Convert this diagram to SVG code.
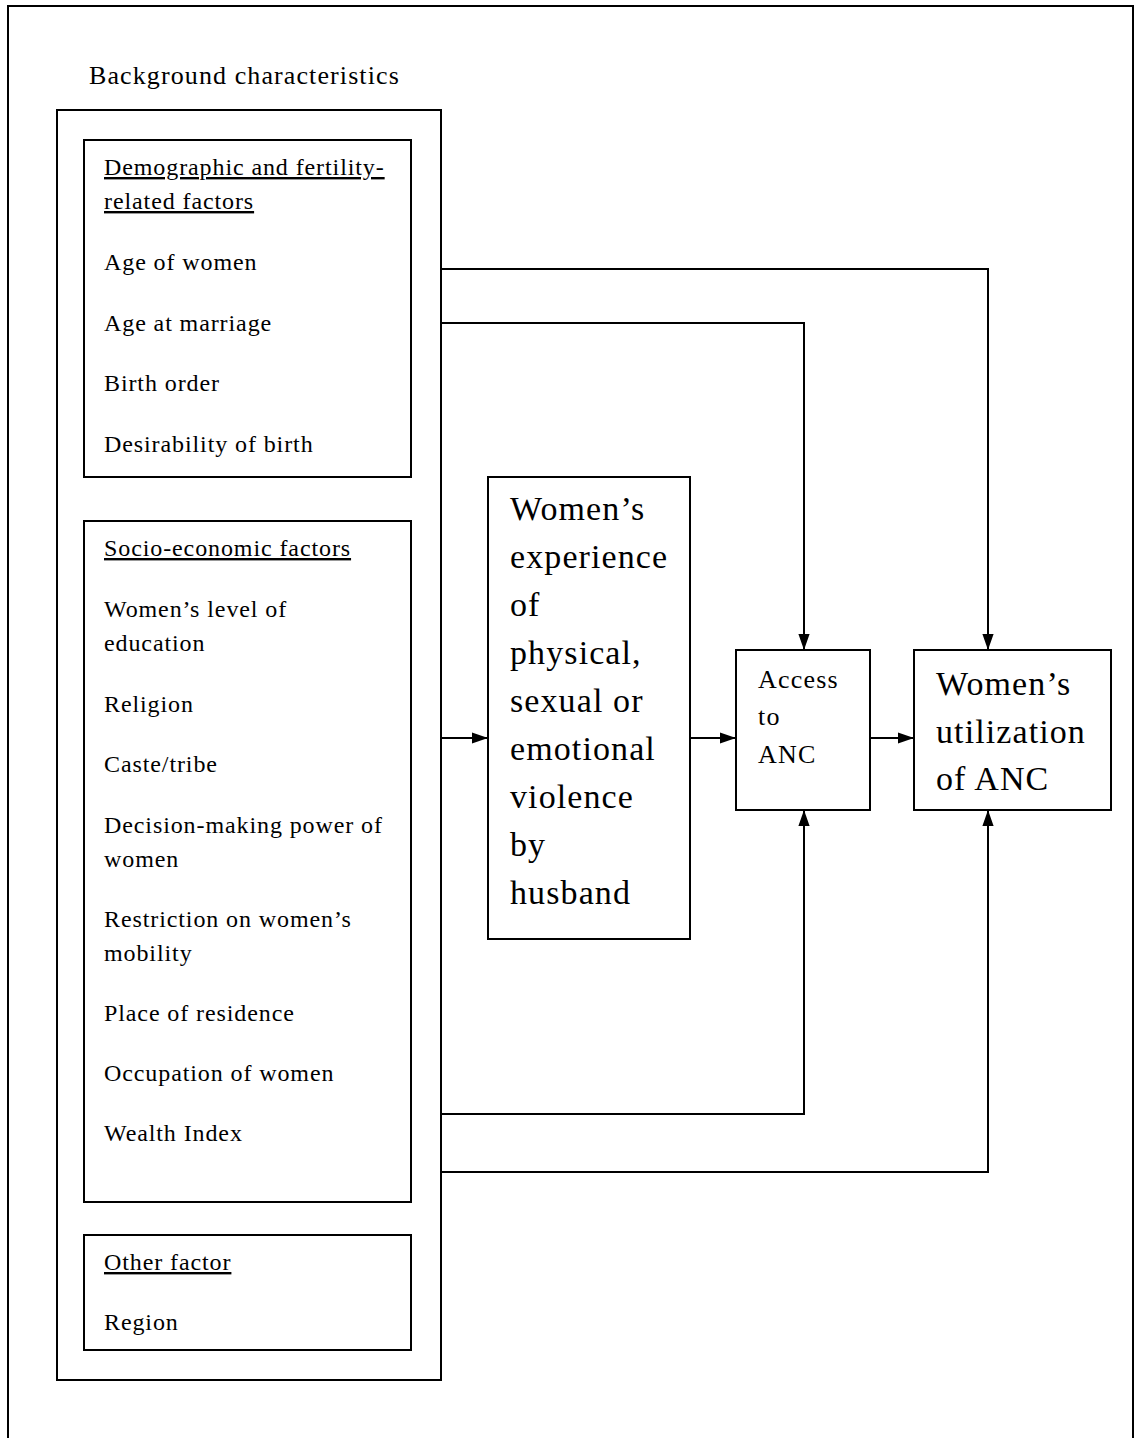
<svg xmlns="http://www.w3.org/2000/svg" width="1135" height="1438" viewBox="0 0 1135 1438">
<style>
.b{fill:none;stroke:#000;stroke-width:2}
.t{font-family:"Liberation Serif","Times New Roman",serif;fill:#000;font-size:24px;letter-spacing:0.9px}
.h{font-size:26px;letter-spacing:1.1px}
.a{font-size:26px;letter-spacing:1.2px}
.u{text-decoration:underline}
.big{font-size:34px;letter-spacing:1.1px}
.c{fill:none;stroke:#000;stroke-width:2}
</style>
<defs>
<marker id="ah2" viewBox="0 0 10 10" refX="10" refY="5" markerWidth="16" markerHeight="16" markerUnits="userSpaceOnUse" orient="auto">
<path d="M0,1.5 L10,5 L0,8.5 z" fill="#000"/>
</marker>
</defs>
<rect width="1135" height="1438" fill="#fff"/>
<g id="frame"><path class="b" d="M8,1440 L8,6 L1133,6 L1133,1440"/></g>
<text class="t h" x="89" y="84">Background characteristics</text>
<g id="background"><rect class="b" x="57" y="110" width="384" height="1270"/></g>
<g id="demographic">
<rect class="b" x="84" y="140" width="327" height="337"/>
<text class="t u" x="104" y="175">Demographic and fertility-</text>
<text class="t u" x="104" y="209">related factors</text>
<text class="t" x="104" y="270">Age of women</text>
<text class="t" x="104" y="331">Age at marriage</text>
<text class="t" x="104" y="391">Birth order</text>
<text class="t" x="104" y="452">Desirability of birth</text>
</g>
<g id="socioeconomic">
<rect class="b" x="84" y="521" width="327" height="681"/>
<text class="t u" x="104" y="556">Socio-economic factors</text>
<text class="t" x="104" y="617">Women’s level of</text>
<text class="t" x="104" y="651">education</text>
<text class="t" x="104" y="712">Religion</text>
<text class="t" x="104" y="772">Caste/tribe</text>
<text class="t" x="104" y="833">Decision-making power of</text>
<text class="t" x="104" y="867">women</text>
<text class="t" x="104" y="927">Restriction on women’s</text>
<text class="t" x="104" y="961">mobility</text>
<text class="t" x="104" y="1021">Place of residence</text>
<text class="t" x="104" y="1081">Occupation of women</text>
<text class="t" x="104" y="1141">Wealth Index</text>
</g>
<g id="other">
<rect class="b" x="84" y="1235" width="327" height="115"/>
<text class="t u" x="104" y="1270">Other factor</text>
<text class="t" x="104" y="1330">Region</text>
</g>
<g id="violence">
<rect class="b" x="488" y="477" width="202" height="462"/>
<text class="t big" x="510" y="520">Women’s</text>
<text class="t big" x="510" y="568">experience</text>
<text class="t big" x="510" y="616">of</text>
<text class="t big" x="510" y="664">physical,</text>
<text class="t big" x="510" y="712">sexual or</text>
<text class="t big" x="510" y="760">emotional</text>
<text class="t big" x="510" y="808">violence</text>
<text class="t big" x="510" y="856">by</text>
<text class="t big" x="510" y="904">husband</text>
</g>
<g id="access">
<rect class="b" x="736" y="650" width="134" height="160"/>
<text class="t a" x="758" y="688">Access</text>
<text class="t a" x="758" y="725">to</text>
<text class="t a" x="758" y="763">ANC</text>
</g>
<g id="utilization">
<rect class="b" x="914" y="650" width="197" height="160"/>
<text class="t big" x="936" y="695">Women’s</text>
<text class="t big" x="936" y="743">utilization</text>
<text class="t big" x="936" y="790">of ANC</text>
</g>
<g id="connectors">
<path class="c" d="M441,269 L988,269 L988,650" marker-end="url(#ah2)"/>
<path class="c" d="M441,323 L804,323 L804,650" marker-end="url(#ah2)"/>
<path class="c" d="M441,738 L488,738" marker-end="url(#ah2)"/>
<path class="c" d="M690,738 L736,738" marker-end="url(#ah2)"/>
<path class="c" d="M870,738 L914,738" marker-end="url(#ah2)"/>
<path class="c" d="M441,1114 L804,1114 L804,810" marker-end="url(#ah2)"/>
<path class="c" d="M441,1172 L988,1172 L988,810" marker-end="url(#ah2)"/>
</g>
</svg>
